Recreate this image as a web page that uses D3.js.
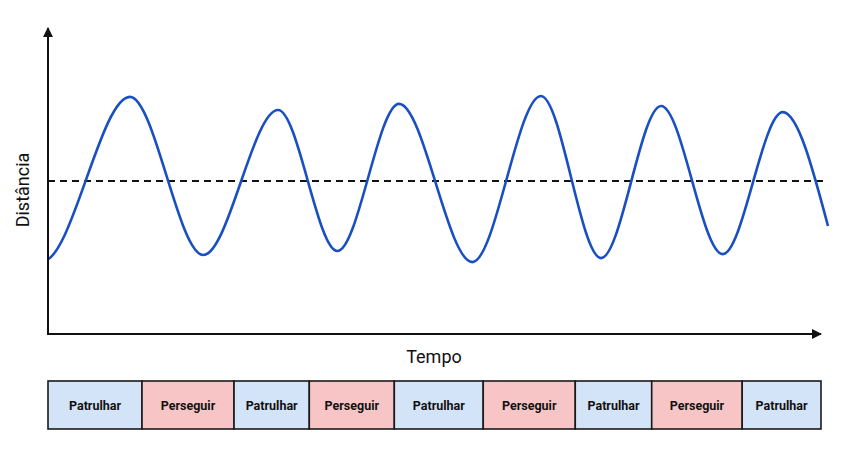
<!DOCTYPE html>
<html>
<head>
<meta charset="utf-8">
<script src="https://cdn.jsdelivr.net/npm/d3@7"></script>
<style>
  body { margin: 0; background: #fff; }
  svg { display: block; font-family: Roboto, "Noto Sans", sans-serif; }
</style>
</head>
<body>
<svg id="chart" width="846" height="464"></svg>
<script>
// time (arbitrary units) and distance (0-100): peaks/troughs.
// the first two points lie left of the vertical axis and are clipped away; they only
// shape how the curve enters the plot
var times = [-0.97, -0.07, 1.05, 1.99, 2.95, 3.71, 4.5, 5.44, 6.32, 7.09, 7.86, 8.65, 9.42, 10];
var distances = [75, 23.7, 77.5, 25.8, 73.2, 27.1, 75.2, 23.5, 77.8, 24.8, 74.5, 26.1, 72.5, 35.3];
var threshold = 50;

var states = ['Patrulhar', 'Perseguir', 'Patrulhar', 'Perseguir', 'Patrulhar',
  'Perseguir', 'Patrulhar', 'Perseguir', 'Patrulhar'];
var stateBreaks = [0, 1.205, 2.385, 3.35, 4.44, 5.58, 6.76, 7.74, 8.9, 9.91];

var stateColors = { 'Patrulhar': '#d3e3f8', 'Perseguir': '#f8c5c6' };

var svg = d3.select('#chart');

var x = d3.scaleLinear().domain([0, 10]).range([48, 828]);
var y = d3.scaleLinear().domain([0, 100]).range([334, 28]);
var axisEnd = x(9.91);

var defs = svg.append('defs');
defs.append('marker')
  .attr('id', 'arrow')
  .attr('viewBox', '0 0 10 10')
  .attr('refX', 9).attr('refY', 5)
  .attr('markerWidth', 5).attr('markerHeight', 5)
  .attr('markerUnits', 'strokeWidth')
  .attr('orient', 'auto')
  .append('path')
  .attr('d', 'M0,0L10,5L0,10Z')
  .attr('fill', '#111');

defs.append('clipPath')
  .attr('id', 'plot-clip')
  .append('rect')
  .attr('x', x(0)).attr('y', 0)
  .attr('width', x(10) - x(0) + 4).attr('height', y(0));

// threshold line
svg.append('line')
  .attr('x1', x(0)).attr('x2', x(9.95))
  .attr('y1', y(threshold)).attr('y2', y(threshold))
  .attr('stroke', '#111').attr('stroke-width', 2)
  .attr('stroke-dasharray', '7,5');

// distance curve
var points = times.map(function (t, i) { return [t, distances[i]]; });
var line = d3.line()
  .x(function (d) { return x(d[0]); })
  .y(function (d) { return y(d[1]); })
  .curve(d3.curveMonotoneX);

svg.append('path')
  .datum(points)
  .attr('d', line)
  .attr('clip-path', 'url(#plot-clip)')
  .attr('fill', 'none')
  .attr('stroke', '#1a4fc2')
  .attr('stroke-width', 2.6);

// axes
svg.append('line')
  .attr('x1', x(0)).attr('y1', y(0))
  .attr('x2', axisEnd).attr('y2', y(0))
  .attr('stroke', '#111').attr('stroke-width', 2)
  .attr('marker-end', 'url(#arrow)');

svg.append('line')
  .attr('x1', x(0)).attr('y1', y(0) + 1)
  .attr('x2', x(0)).attr('y2', y(100))
  .attr('stroke', '#111').attr('stroke-width', 2)
  .attr('marker-end', 'url(#arrow)');

// axis labels
svg.append('text')
  .attr('x', 434).attr('y', 363)
  .attr('text-anchor', 'middle')
  .attr('font-size', 18)
  .attr('fill', '#111')
  .text('Tempo');

svg.append('text')
  .attr('transform', 'translate(29,190) rotate(-90)')
  .attr('text-anchor', 'middle')
  .attr('font-size', 18)
  .attr('fill', '#111')
  .text('Distância');

// state bar
var barTop = 381, barBottom = 429;
var cells = svg.append('g').selectAll('g')
  .data(states)
  .enter().append('g');

cells.append('rect')
  .attr('x', function (d, i) { return x(stateBreaks[i]); })
  .attr('y', barTop)
  .attr('width', function (d, i) { return x(stateBreaks[i + 1]) - x(stateBreaks[i]); })
  .attr('height', barBottom - barTop)
  .attr('fill', function (d) { return stateColors[d]; })
  .attr('stroke', '#1a1a1a')
  .attr('stroke-width', 1.6);

cells.append('text')
  .attr('x', function (d, i) { return (x(stateBreaks[i]) + x(stateBreaks[i + 1])) / 2; })
  .attr('y', (barTop + barBottom) / 2 + 4.5)
  .attr('text-anchor', 'middle')
  .attr('font-size', 12.5)
  .attr('font-weight', 'bold')
  .attr('fill', '#111')
  .text(function (d) { return d; });
</script>
</body>
</html>
